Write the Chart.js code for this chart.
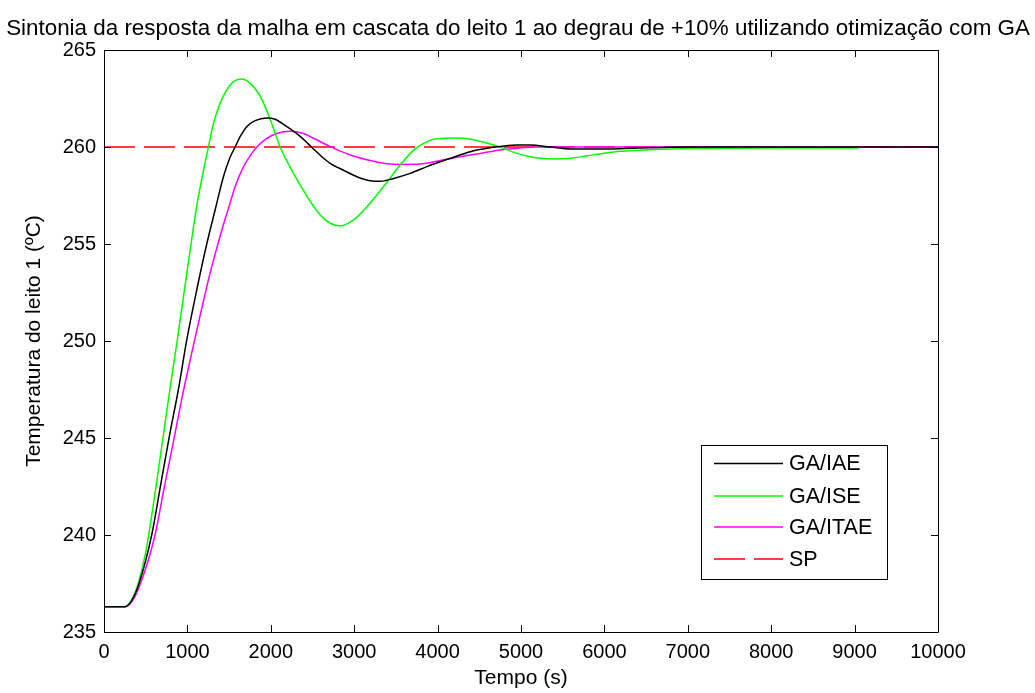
<!DOCTYPE html>
<html>
<head>
<meta charset="utf-8">
<script src="https://cdn.jsdelivr.net/npm/chart.js@4.4.1/dist/chart.umd.min.js"></script>
<style>
  html, body { margin: 0; padding: 0; background: #fff; }
  #wrap { width: 1035px; height: 693px; }
</style>
</head>
<body>
<div id="wrap"><canvas id="c" width="1035" height="693"></canvas></div>
<script>
// Step response of bed 1 temperature (cascade loop), +10% step, three GA tunings
const chartTitle = 'Sintonia da resposta da malha em cascata do leito 1 ao degrau de +10% utilizando otimização com GA';
const xLabel = 'Tempo (s)';
const yLabel = 'Temperatura do leito 1 (ºC)';

const seriesNames = ['GA/IAE', 'GA/ISE', 'GA/ITAE', 'SP'];

// GA/IAE
const tIAE = [0, 250, 330, 420, 572, 680, 784, 892, 992, 1112, 1232, 1332, 1432, 1512, 1572, 1632, 1712, 1812, 1952, 2052, 2192, 2352, 2452, 2512, 2612, 2712, 2872, 3032, 3192, 3312, 3472, 3672, 3872, 4032, 4232, 4432, 4592, 4752, 4952, 5112, 5350, 5600, 6000, 6400, 7000, 10000];
const yIAE = [236.3, 236.3, 236.6, 237.5, 240.0, 242.6, 245.1, 247.5, 250.05, 252.63, 255.0, 256.75, 258.47, 259.47, 260.0, 260.53, 261.05, 261.36, 261.5, 261.43, 261.05, 260.55, 260.15, 259.9, 259.5, 259.16, 258.8, 258.47, 258.26, 258.23, 258.38, 258.64, 258.99, 259.24, 259.54, 259.81, 259.93, 260.02, 260.1, 260.1, 260.0, 259.9, 259.9, 259.95, 260, 260];

// GA/ISE
const tISE = [0, 250, 330, 410, 500, 600, 700, 800, 877, 950, 1030, 1104, 1152, 1200, 1252, 1312, 1392, 1472, 1552, 1652, 1752, 1852, 1932, 2012, 2112, 2232, 2352, 2472, 2592, 2712, 2832, 2992, 3152, 3352, 3552, 3712, 3832, 3952, 4072, 4192, 4312, 4472, 4632, 4792, 4952, 5112, 5232, 5400, 5600, 5800, 6000, 6200, 6600, 7000, 8000, 9050];
const yISE = [236.3, 236.3, 236.65, 237.5, 239.1, 241.8, 244.8, 247.8, 250.0, 252.2, 254.6, 256.75, 257.9, 258.95, 260.0, 261.2, 262.25, 262.94, 263.37, 263.5, 263.28, 262.77, 262.08, 261.2, 260.0, 258.95, 258.05, 257.2, 256.5, 256.07, 255.93, 256.24, 256.92, 257.96, 259.07, 259.84, 260.19, 260.4, 260.45, 260.47, 260.45, 260.33, 260.15, 259.93, 259.67, 259.5, 259.42, 259.38, 259.42, 259.55, 259.68, 259.78, 259.87, 259.92, 259.95, 259.95];

// GA/ITAE
const tITAE = [0, 250, 330, 420, 612, 720, 832, 932, 1032, 1152, 1272, 1412, 1504, 1572, 1672, 1772, 1832, 1952, 2072, 2232, 2392, 2512, 2712, 2952, 3192, 3392, 3552, 3792, 4032, 4272, 4512, 4752, 4952, 5152, 6000, 10000];
const yITAE = [236.3, 236.3, 236.55, 237.3, 240.0, 242.4, 244.8, 247.0, 249.0, 251.3, 253.5, 255.7, 257.0, 257.95, 258.98, 259.67, 260.0, 260.45, 260.7, 260.81, 260.7, 260.45, 260.02, 259.59, 259.3, 259.14, 259.1, 259.12, 259.3, 259.5, 259.67, 259.85, 259.93, 260.0, 260, 260];

// Set point
const tSP = [0, 10000];
const ySP = [260, 260];

const xTicks = [0, 1000, 2000, 3000, 4000, 5000, 6000, 7000, 8000, 9000, 10000];
const yTicks = [235, 240, 245, 250, 255, 260, 265];

const FONT = '"Liberation Sans", Arial, Helvetica, sans-serif';

function pts(t, y) { return t.map((x, i) => ({ x: x, y: y[i] })); }

const lineStyle = { pointRadius: 0, borderWidth: 1.5, fill: false, cubicInterpolationMode: 'monotone' };

// Frame with inward tick marks on all four sides
const framePlugin = {
  id: 'frame',
  afterDatasetsDraw(chart) {
    const { ctx, chartArea: a, scales } = chart;
    const L = 7;
    ctx.save();
    ctx.strokeStyle = '#000';
    ctx.lineWidth = 1;
    ctx.beginPath();
    ctx.rect(Math.round(a.left) + 0.5, Math.round(a.top) + 0.5, Math.round(a.right - a.left), Math.round(a.bottom - a.top));
    xTicks.forEach(v => {
      const px = Math.round(scales.x.getPixelForValue(v)) + 0.5;
      ctx.moveTo(px, a.bottom); ctx.lineTo(px, a.bottom - L);
      ctx.moveTo(px, a.top); ctx.lineTo(px, a.top + L);
    });
    yTicks.forEach(v => {
      const py = Math.round(scales.y.getPixelForValue(v)) + 0.5;
      ctx.moveTo(a.left, py); ctx.lineTo(a.left + L, py);
      ctx.moveTo(a.right, py); ctx.lineTo(a.right - L, py);
    });
    ctx.stroke();
    ctx.restore();
  }
};

// Boxed legend inside the plot, lower right
const legendPlugin = {
  id: 'boxLegend',
  afterDraw(chart) {
    const { ctx } = chart;
    const bx = 701, by = 445, bw = 186, bh = 134;
    const rows = [463.5, 496, 527, 559];
    ctx.save();
    ctx.fillStyle = '#fff';
    ctx.fillRect(bx, by, bw, bh);
    ctx.strokeStyle = '#000';
    ctx.lineWidth = 1;
    ctx.strokeRect(bx + 0.5, by + 0.5, bw, bh);
    ctx.font = '21.5px ' + FONT;
    ctx.textBaseline = 'middle';
    ctx.textAlign = 'left';
    chart.data.datasets.forEach((ds, i) => {
      const y = rows[i];
      ctx.strokeStyle = ds.borderColor;
      ctx.lineWidth = 1.5;
      ctx.setLineDash(ds.borderDash || []);
      ctx.beginPath();
      ctx.moveTo(714, y); ctx.lineTo(783, y);
      ctx.stroke();
      ctx.setLineDash([]);
      ctx.fillStyle = '#000';
      ctx.fillText(ds.label, 789, y + 1);
    });
    ctx.restore();
  }
};

// Title over the plot
const titlePlugin = {
  id: 'topTitle',
  afterDraw(chart) {
    const { ctx } = chart;
    ctx.save();
    ctx.font = '22.4px ' + FONT;
    ctx.fillStyle = '#000';
    ctx.textAlign = 'center';
    ctx.textBaseline = 'middle';
    ctx.fillText(chartTitle, 518, 29);
    ctx.restore();
  }
};

const tickFont = { family: FONT, size: 20 };
const labelFont = { family: FONT, size: 21 };

new Chart(document.getElementById('c'), {
  type: 'line',
  data: {
    datasets: [
      Object.assign({ label: seriesNames[0], data: pts(tIAE, yIAE), borderColor: '#000000' }, lineStyle),
      Object.assign({ label: seriesNames[1], data: pts(tISE, yISE), borderColor: '#00ff00' }, lineStyle),
      Object.assign({ label: seriesNames[2], data: pts(tITAE, yITAE), borderColor: '#ff00ff' }, lineStyle),
      Object.assign({ label: seriesNames[3], data: pts(tSP, ySP), borderColor: '#ff0000', borderDash: [31, 9] }, lineStyle)
    ]
  },
  options: {
    responsive: false,
    animation: false,
    devicePixelRatio: 1,
    layout: { padding: { top: 50, right: 97, left: 0, bottom: 0 } },
    plugins: { legend: { display: false }, tooltip: { enabled: false }, title: { display: false } },
    scales: {
      x: {
        type: 'linear', min: 0, max: 10000,
        afterBuildTicks: s => { s.ticks = xTicks.map(v => ({ value: v })); },
        afterFit: s => { s.height = 61; },
        grid: { display: false, drawTicks: false },
        border: { display: false },
        ticks: { color: '#000', font: tickFont, padding: 8, maxRotation: 0, autoSkip: false, callback: v => String(v) },
        title: { display: true, text: xLabel, color: '#000', font: labelFont, padding: { top: 0, bottom: 2 } }
      },
      y: {
        type: 'linear', min: 235, max: 265,
        afterBuildTicks: s => { s.ticks = yTicks.map(v => ({ value: v })); },
        afterFit: s => { s.width = 104; },
        grid: { display: false, drawTicks: false },
        border: { display: false },
        ticks: { color: '#000', font: tickFont, padding: 8, autoSkip: false, callback: v => String(v) },
        title: { display: true, text: yLabel, color: '#000', font: labelFont, padding: { top: 22, bottom: 0 } }
      }
    }
  },
  plugins: [framePlugin, legendPlugin, titlePlugin]
});
</script>
</body>
</html>
